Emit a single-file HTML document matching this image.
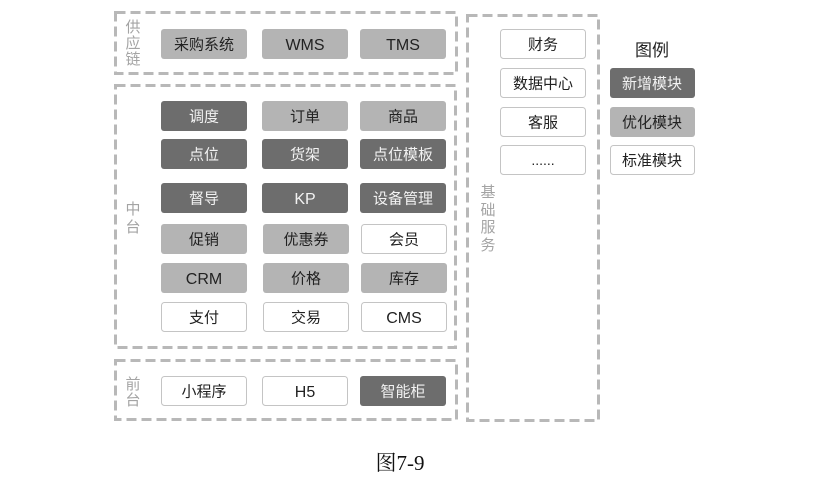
<!DOCTYPE html>
<html><head><meta charset="utf-8"><style>
html,body{margin:0;padding:0;background:#fff;}
svg{display:block;}
text{font-family:"Liberation Sans","Noto Sans CJK SC",sans-serif;}
</style></head><body>
<svg width="823" height="481" viewBox="0 0 823 481" xmlns="http://www.w3.org/2000/svg">
<g fill="none" stroke="#b8b8b8" stroke-width="3" stroke-dasharray="10 5">
<rect x="115.5" y="12.5" width="341" height="61"/>
<rect x="115.5" y="85.5" width="340" height="262"/>
<rect x="115.5" y="360.5" width="341" height="59"/>
<rect x="467.5" y="15.5" width="131" height="405"/>
</g>
<g font-size="15" fill="#a4a4a4" text-anchor="middle">
<text x="133" y="32">供</text><text x="133" y="48">应</text><text x="133" y="64">链</text>
<text x="133" y="214">中</text><text x="133" y="232">台</text>
<text x="133" y="389">前</text><text x="133" y="405">台</text>
<text x="488" y="197">基</text><text x="488" y="215">础</text><text x="488" y="232">服</text><text x="488" y="250">务</text>
</g>
<!-- dark boxes -->
<g fill="#6d6d6d">
<rect x="161" y="101" width="86" height="30" rx="3"/>
<rect x="161" y="139" width="86" height="30" rx="3"/>
<rect x="262" y="139" width="86" height="30" rx="3"/>
<rect x="360" y="139" width="86" height="30" rx="3"/>
<rect x="161" y="183" width="86" height="30" rx="3"/>
<rect x="262" y="183" width="86" height="30" rx="3"/>
<rect x="360" y="183" width="86" height="30" rx="3"/>
<rect x="360" y="376" width="86" height="30" rx="3"/>
<rect x="610" y="68" width="85" height="30" rx="3"/>
</g>
<!-- mid boxes -->
<g fill="#b4b4b4">
<rect x="161" y="29" width="86" height="30" rx="3"/>
<rect x="262" y="29" width="86" height="30" rx="3"/>
<rect x="360" y="29" width="86" height="30" rx="3"/>
<rect x="262" y="101" width="86" height="30" rx="3"/>
<rect x="360" y="101" width="86" height="30" rx="3"/>
<rect x="161" y="224" width="86" height="30" rx="3"/>
<rect x="263" y="224" width="86" height="30" rx="3"/>
<rect x="161" y="263" width="86" height="30" rx="3"/>
<rect x="263" y="263" width="86" height="30" rx="3"/>
<rect x="361" y="263" width="86" height="30" rx="3"/>
<rect x="610" y="107" width="85" height="30" rx="3"/>
</g>
<!-- white boxes -->
<g fill="#fff" stroke="#c4c4c4" stroke-width="1">
<rect x="361.5" y="224.5" width="85" height="29" rx="3"/>
<rect x="161.5" y="302.5" width="85" height="29" rx="3"/>
<rect x="263.5" y="302.5" width="85" height="29" rx="3"/>
<rect x="361.5" y="302.5" width="85" height="29" rx="3"/>
<rect x="161.5" y="376.5" width="85" height="29" rx="3"/>
<rect x="262.5" y="376.5" width="85" height="29" rx="3"/>
<rect x="500.5" y="29.5" width="85" height="29" rx="3"/>
<rect x="500.5" y="68.5" width="85" height="29" rx="3"/>
<rect x="500.5" y="107.5" width="85" height="29" rx="3"/>
<rect x="500.5" y="145.5" width="85" height="29" rx="3"/>
<rect x="610.5" y="145.5" width="84" height="29" rx="3"/>
</g>
<g font-size="15" text-anchor="middle" fill="#222">
<text x="204" y="49.5">采购系统</text>
<text x="305" y="50" font-size="16">WMS</text>
<text x="403" y="50" font-size="16">TMS</text>
<text x="305" y="121.5">订单</text>
<text x="403" y="121.5">商品</text>
<text x="204" y="244.5">促销</text>
<text x="306" y="244.5">优惠券</text>
<text x="404" y="244.5">会员</text>
<text x="204" y="284" font-size="16">CRM</text>
<text x="306" y="283.5">价格</text>
<text x="404" y="283.5">库存</text>
<text x="204" y="322.5">支付</text>
<text x="306" y="322.5">交易</text>
<text x="404" y="323" font-size="16">CMS</text>
<text x="204" y="396.5">小程序</text>
<text x="305" y="397" font-size="16">H5</text>
<text x="543" y="49.5">财务</text>
<text x="543" y="88.5">数据中心</text>
<text x="543" y="127.5">客服</text>
<text x="543" y="165" font-size="14">......</text>
<text x="652" y="127.5">优化模块</text>
<text x="652" y="165.5">标准模块</text>
<text x="652" y="56" font-size="17">图例</text>
</g>
<g font-size="15" text-anchor="middle" fill="#f2f2f2">
<text x="204" y="121.5">调度</text>
<text x="204" y="159.5">点位</text>
<text x="305" y="159.5">货架</text>
<text x="403" y="159.5">点位模板</text>
<text x="204" y="203.5">督导</text>
<text x="305" y="204" font-size="16">KP</text>
<text x="403" y="203.5">设备管理</text>
<text x="403" y="396.5">智能柜</text>
<text x="652" y="88.5">新增模块</text>
</g>
<text x="400" y="470" font-size="21" text-anchor="middle" fill="#111" style="font-family:'Liberation Serif','Noto Serif CJK SC',serif;">图7-9</text>
</svg>
</body></html>
